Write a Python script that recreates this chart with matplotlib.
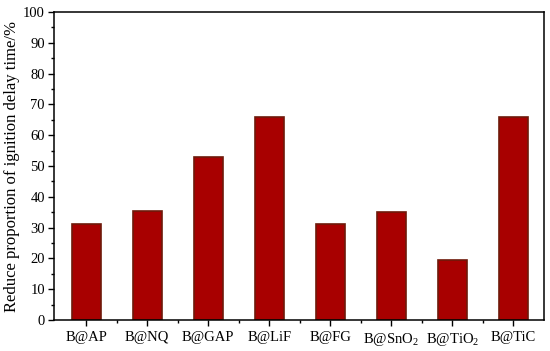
import matplotlib
matplotlib.use('Agg')
import matplotlib.pyplot as plt
from matplotlib.ticker import MultipleLocator, FixedLocator

plt.rcParams['font.family'] = ['Liberation Serif', 'DejaVu Serif']
plt.rcParams['mathtext.fontset'] = 'custom'
plt.rcParams['mathtext.rm'] = 'Liberation Serif'

samples = ['B@AP', 'B@NQ', 'B@GAP', 'B@LiF', 'B@FG',
           r'B@SnO$\mathregular{_2}$', r'B@TiO$\mathregular{_2}$', 'B@TiC']
reduction = [31.3, 35.4, 53.0, 66.0, 31.1, 35.0, 19.5, 66.0]

fig = plt.figure(figsize=(5.5, 3.51), dpi=100)
ax = fig.add_axes([0.098, 0.088, 0.891, 0.878])

x = list(range(len(samples)))
ax.bar(x, reduction, width=0.48, color='#A80000', edgecolor='#6E1A0A', linewidth=1.2)

ax.set_xlim(-0.53, 7.5)
ax.set_ylim(0, 100)
ax.set_xticks(x)
ax.set_xticklabels(samples)
ax.xaxis.set_minor_locator(FixedLocator([i + 0.5 for i in x[:-1]]))
ax.yaxis.set_major_locator(MultipleLocator(10))
ax.yaxis.set_minor_locator(MultipleLocator(5))
ax.tick_params(axis='both', which='major', direction='out', length=4, width=1,
               labelsize=10.5, pad=2.5)
ax.tick_params(axis='x', which='major', pad=3.5)
ax.tick_params(axis='both', which='minor', direction='out', length=2.5, width=1)
ax.tick_params(top=False, right=False)
ax.set_ylabel('Reduce proportion of ignition delay time/%', fontsize=12, labelpad=2)

for s in ax.spines.values():
    s.set_linewidth(1.1)

fig.savefig('out.png', dpi=100)
